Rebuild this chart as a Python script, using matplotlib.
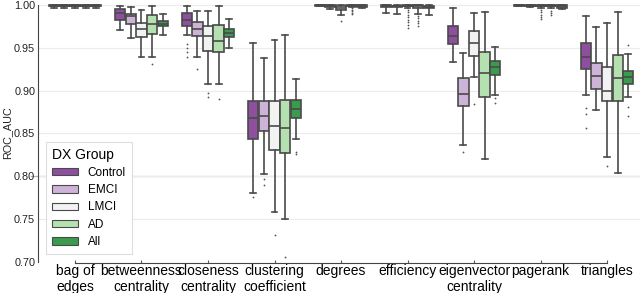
import matplotlib.pyplot as plt
from matplotlib.patches import Patch

# categories on the x axis
features = ["bag of\nedges", "betweenness\ncentrality", "closeness\ncentrality",
            "clustering\ncoefficient", "degrees", "efficiency",
            "eigenvector\ncentrality", "pagerank", "triangles"]
groups = ["Control", "EMCI", "LMCI", "AD", "All"]
colors = ["#8e4f9e", "#cdb3d8", "#f2f2f2", "#b5e1b0", "#3a9a4e"]

# box stats per feature, one value per group (Control, EMCI, LMCI, AD, All)
q1 = [
    [0.9990, 0.9990, 0.9990, 0.9990, 0.9990],
    [0.9834, 0.9779, 0.9624, 0.9670, 0.9756],
    [0.9756, 0.9643, 0.9469, 0.9450, 0.9631],
    [0.8430, 0.8527, 0.8302, 0.8276, 0.8682],
    [0.9995, 0.9985, 0.9942, 0.9988, 0.9980],
    [0.9985, 0.9980, 0.9988, 0.9970, 0.9965],
    [0.9547, 0.8818, 0.9407, 0.8927, 0.9186],
    [0.9995, 0.9990, 0.9990, 0.9990, 0.9970],
    [0.9252, 0.9023, 0.8876, 0.8884, 0.9081],
]
med = [
    [0.9998, 0.9998, 0.9998, 0.9998, 0.9998],
    [0.9915, 0.9872, 0.9729, 0.9780, 0.9787],
    [0.9833, 0.9729, 0.9643, 0.9585, 0.9682],
    [0.8686, 0.8709, 0.8593, 0.8566, 0.8787],
    [1.0000, 0.9995, 0.9970, 0.9995, 0.9990],
    [0.9995, 0.9990, 0.9995, 0.9990, 0.9980],
    [0.9643, 0.8965, 0.9562, 0.9213, 0.9275],
    [1.0000, 0.9995, 0.9995, 0.9995, 0.9990],
    [0.9399, 0.9178, 0.9003, 0.9147, 0.9159],
]
q3 = [
    [1.0000, 1.0000, 1.0000, 1.0000, 1.0000],
    [0.9962, 0.9903, 0.9794, 0.9884, 0.9822],
    [0.9911, 0.9806, 0.9756, 0.9767, 0.9724],
    [0.8884, 0.8884, 0.8884, 0.8895, 0.8895],
    [1.0000, 1.0000, 0.9988, 1.0000, 1.0000],
    [1.0000, 0.9995, 1.0000, 1.0000, 0.9995],
    [0.9756, 0.9147, 0.9698, 0.9457, 0.9352],
    [1.0000, 1.0000, 1.0000, 1.0000, 1.0000],
    [0.9555, 0.9322, 0.9276, 0.9419, 0.9236],
]
whis_lo = [
    [0.9975, 0.9970, 0.9975, 0.9970, 0.9975],
    [0.9710, 0.9620, 0.9400, 0.9390, 0.9655],
    [0.9650, 0.9400, 0.9080, 0.9080, 0.9497],
    [0.7802, 0.8030, 0.7578, 0.7500, 0.8430],
    [0.9990, 0.9962, 0.9884, 0.9980, 0.9970],
    [0.9911, 0.9903, 0.9970, 0.9903, 0.9884],
    [0.9340, 0.8360, 0.9166, 0.8206, 0.8953],
    [0.9990, 0.9980, 0.9970, 0.9970, 0.9960],
    [0.8953, 0.8771, 0.8224, 0.8035, 0.8922],
]
whis_hi = [
    [1.0000, 1.0000, 1.0000, 1.0000, 1.0000],
    [0.9990, 0.9980, 0.9950, 0.9990, 0.9903],
    [0.9990, 0.9934, 0.9934, 0.9990, 0.9837],
    [0.9562, 0.9380, 0.9600, 0.9651, 0.9136],
    [1.0000, 1.0000, 1.0000, 1.0000, 1.0000],
    [1.0000, 1.0000, 1.0000, 1.0000, 1.0000],
    [0.9973, 0.9445, 0.9910, 0.9922, 0.9515],
    [1.0000, 1.0000, 1.0000, 1.0000, 1.0000],
    [0.9872, 0.9748, 0.9794, 0.9922, 0.9430],
]
outliers = [
    [[], [], [], [], []],
    [[], [], [], [0.931], []],
    [[0.955, 0.950, 0.945, 0.940], [0.926], [0.897, 0.893], [0.890], []],
    [[0.7752], [0.797, 0.790], [0.7306], [0.7055], [0.8283, 0.8256]],
    [[], [], [0.9817], [0.997, 0.995, 0.993, 0.991, 0.9895], []],
    [[], [], [0.995, 0.992, 0.989, 0.986, 0.983, 0.980, 0.977, 0.974],
     [0.988, 0.985, 0.982, 0.979, 0.976], []],
    [[], [0.8283], [0.885], [], [0.8915, 0.8857]],
    [[], [], [0.995, 0.992, 0.989, 0.986, 0.9835], [0.994, 0.991, 0.9885], []],
    [[0.8799, 0.8733, 0.8566], [], [0.812], [], [0.9535, 0.881, 0.870]],
]

plt.rcParams['font.family'] = ['Liberation Sans', 'DejaVu Sans']

fig = plt.figure(figsize=(6.4, 2.93), dpi=100)
ax = fig.add_axes([0.0594, 0.106, 0.9406, 0.880])

edge = "#4a4a4a"
offsets = [-0.32, -0.16, 0.0, 0.16, 0.32]
for g in range(len(groups)):
    stats = []
    for c in range(len(features)):
        stats.append({"med": med[c][g], "q1": q1[c][g], "q3": q3[c][g],
                      "whislo": whis_lo[c][g], "whishi": whis_hi[c][g],
                      "fliers": outliers[c][g]})
    pos = [c + offsets[g] for c in range(len(features))]
    ax.bxp(stats, positions=pos, widths=0.155, capwidths=0.09,
           patch_artist=True, manage_ticks=False,
           boxprops=dict(facecolor=colors[g], edgecolor=edge, linewidth=1.2),
           medianprops=dict(color=edge, linewidth=1.2),
           whiskerprops=dict(color=edge, linewidth=1.2),
           capprops=dict(color=edge, linewidth=1.2),
           flierprops=dict(marker="o", markersize=1.3, markerfacecolor="#555555",
                           markeredgecolor="none"))

ax.set_xlim(-0.556, 8.496)
ax.set_ylim(0.6995, 1.0015)
ax.set_yticks([0.70, 0.75, 0.80, 0.85, 0.90, 0.95, 1.00])
ax.set_yticklabels(["0.70", "0.75", "0.80", "0.85", "0.90", "0.95", "1.00"])
ax.set_xticks(range(len(features)))
ax.set_xticklabels(features, fontsize=7.6, color="#222222", linespacing=0.95)
ax.tick_params(axis="y", labelsize=7.8, labelcolor="#222222", length=0, pad=2)
ax.tick_params(axis="x", length=2, direction="in", color="#555555", pad=0.5)

ax.set_axisbelow(True)
ax.yaxis.grid(True, color="#ececec", linewidth=0.8)
ax.axhline(0.80, xmin=-0.012, color="#b0b0b0", linewidth=0.9, clip_on=False, zorder=0.5)

for s in ["top", "right"]:
    ax.spines[s].set_visible(False)
ax.spines["left"].set_bounds(0.70, 1.00)
ax.spines["left"].set_color("#444444")
ax.spines["bottom"].set_bounds(0, 8)
ax.spines["bottom"].set_color("#444444")
ax.spines["bottom"].set_position(("outward", 1))
ax.set_ylabel("ROC_AUC", fontsize=7.8, color="#222222")
ax.yaxis.set_label_coords(-0.043, 0.5)

handles = [Patch(facecolor=colors[i], edgecolor=edge, linewidth=0.8) for i in range(len(groups))]
leg = ax.legend(handles, groups, title="DX Group", loc="lower left",
                bbox_to_anchor=(0.004, 0.008), fontsize=8.5, title_fontsize=10,
                handlelength=2.2, handleheight=0.6, labelspacing=0.45,
                handletextpad=0.8, borderpad=0.5, frameon=True, fancybox=False,
                framealpha=1.0, edgecolor="#dddddd", alignment="left")
leg.get_frame().set_linewidth(0.8)

fig.savefig("out.png", dpi=100)
